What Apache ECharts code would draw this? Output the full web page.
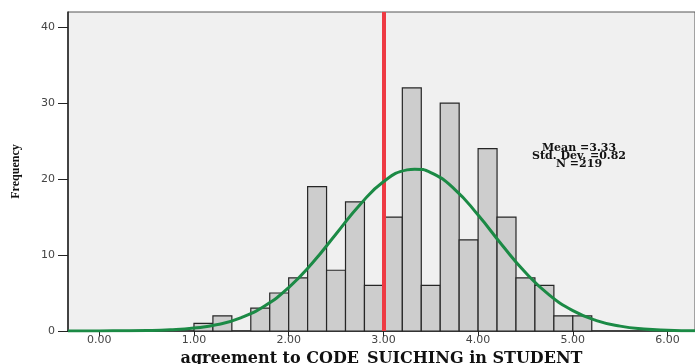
<!DOCTYPE html>
<html><head><meta charset="utf-8">
<script src="https://cdn.jsdelivr.net/npm/echarts@6/dist/echarts.min.js"></script>
<style>html,body{margin:0;padding:0;background:#fff}#c{width:695px;height:364px}</style>
</head><body><div id="c"></div>
<script>
// Histogram bins (lower edge) and frequencies
const binStart = [1.0,1.2,1.4,1.6,1.8,2.0,2.2,2.4,2.6,2.8,3.0,3.2,3.4,3.6,3.8,4.0,4.2,4.4,4.6,4.8,5.0];
const counts   = [1,  2,  0,  3,  5,  7,  19, 8,  17, 6,  15, 32, 6,  30, 12, 24, 15, 7,  6,  2,  2];
const binWidth = 0.2;
// Fitted normal curve
const curveX = [-0.33,0,0.5,0.75,1.0,1.25,1.5,1.75,2.0,2.25,2.5,2.75,3.0,3.25,3.33,3.5,3.75,4.0,4.25,4.5,4.75,5.0,5.25,5.5,5.75,6.0,6.29];
const curveY = [0.0,0.01,0.06,0.15,0.38,0.85,1.77,3.33,5.72,8.95,12.77,16.59,19.65,21.21,21.31,20.86,18.69,15.26,11.36,7.70,4.76,2.68,1.37,0.64,0.27,0.11,0.03];
const xTicks = [0,1,2,3,4,5,6];
const yTicks = [0,10,20,30,40];
const refLine = 3.0;
const statsText = ['Mean =3.33','Std. Dev. =0.82','N =219'];

const chart = echarts.init(document.getElementById('c'), null, {renderer:'canvas'});
const barData = binStart.map((s,i)=>[s, s+binWidth, counts[i]]).filter(d=>d[2]>0);
chart.setOption({
  animation:false,
  grid:{left:68, top:12, right:0, bottom:33, outerBoundsMode:'none', containLabel:false, show:true, backgroundColor:'#f0f0f0', borderColor:'#555', borderWidth:1},
  xAxis:{type:'value', min:-0.33, max:6.29,
    name:'agreement to CODE_SUICHING in STUDENT', nameLocation:'middle', nameGap:18,
    nameTextStyle:{fontFamily:'DejaVu Serif', fontWeight:'bold', fontSize:16, color:'#111'},
    axisLine:{show:true, onZero:false, lineStyle:{color:'#222', width:1.5}},
    axisTick:{show:true, length:5, customValues:xTicks, lineStyle:{color:'#222'}},
    axisLabel:{customValues:xTicks, formatter:v=>v.toFixed(2), fontFamily:'DejaVu Sans', fontSize:11, color:'#444', margin:4},
    splitLine:{show:false}},
  yAxis:{type:'value', min:0, max:42,
    name:'Frequency', nameLocation:'middle', nameGap:46, nameRotate:90,
    nameTextStyle:{fontFamily:'Liberation Serif', fontWeight:'bold', fontSize:12, color:'#111'},
    axisLine:{show:true, onZero:false, lineStyle:{color:'#222', width:1.5}},
    axisTick:{show:true, length:10, customValues:yTicks, lineStyle:{color:'#222', width:1}},
    axisLabel:{customValues:yTicks, fontFamily:'DejaVu Sans', fontSize:11, color:'#444', margin:13},
    splitLine:{show:false}},
  series:[
    {type:'custom', z:2, data:barData,
      renderItem:(params, api)=>{
        const p0 = api.coord([api.value(0), api.value(2)]);
        const p1 = api.coord([api.value(1), 0]);
        return {type:'rect', shape:{x:p0[0], y:p0[1], width:p1[0]-p0[0], height:p1[1]-p0[1]},
          style:{fill:'#cdcdcd', stroke:'#262626', lineWidth:1.2}};
      },
      encode:{x:[0,1], y:2},
      markLine:{silent:true, symbol:'none', label:{show:false}, z:3,
        lineStyle:{color:'#ee3a43', width:4, type:'solid'},
        data:[{xAxis:refLine}]}
    },
    {type:'line', z:4, smooth:true, showSymbol:false, symbol:'none',
      data:curveX.map((x,i)=>[x,curveY[i]]),
      lineStyle:{color:'#1b8a45', width:3}}
  ],
  graphic:[{type:'text', x:579, y:144, style:{text:statsText.join('\n'), fontFamily:'DejaVu Serif', fontWeight:'bold', fontSize:11, lineHeight:8, fill:'#111', align:'center'}}]
});
</script></body></html>
